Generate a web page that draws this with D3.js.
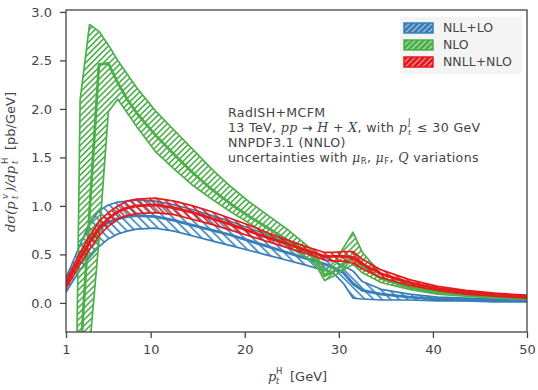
<!DOCTYPE html>
<html>
<head>
<meta charset="utf-8">
<script src="https://cdn.jsdelivr.net/npm/d3@7/dist/d3.min.js"></script>
<style>
  html, body { margin: 0; padding: 0; background: #fff; }
  svg text { font-family: 'DejaVu Sans', sans-serif; fill: #444; }
  .math { font-family: 'DejaVu Serif', serif; font-style: italic; }
</style>
</head>
<body>
<div id="chart"></div>
<script>
(function () {
  'use strict';

  // ── Data ──────────────────────────────────────────────────────
  const ptH = [1, 1.5, 2.5, 3.5, 4.5, 5.5, 6.5, 7.5, 8.5, 10.5, 12.5, 14.5, 16.5, 18.5, 20.5,
               22.5, 24.5, 26.5, 27.5, 28.5, 29.5, 30.5, 31.5, 32.5, 34.5, 37.5, 40.5, 43.5, 46.5, 50];

  // NLL+LO
  const nllUp  = [0.27, 0.37, 0.60, 0.82, 0.95, 1.01, 1.04, 1.05, 1.06, 1.05, 1.01, 0.96, 0.90, 0.84, 0.77,
                  0.70, 0.63, 0.55, 0.51, 0.47, 0.43, 0.38, 0.33, 0.22, 0.14, 0.09, 0.06, 0.05, 0.04, 0.03];
  const nllMid = [0.19, 0.28, 0.47, 0.64, 0.76, 0.83, 0.87, 0.89, 0.90, 0.89, 0.85, 0.80, 0.75, 0.70, 0.64,
                  0.58, 0.52, 0.46, 0.43, 0.40, 0.36, 0.31, 0.20, 0.13, 0.09, 0.06, 0.04, 0.03, 0.03, 0.02];
  const nllLo  = [0.11, 0.19, 0.34, 0.47, 0.58, 0.66, 0.71, 0.74, 0.76, 0.77, 0.74, 0.69, 0.64, 0.59, 0.54,
                  0.49, 0.44, 0.39, 0.36, 0.34, 0.30, 0.20, 0.05, 0.04, 0.03, 0.03, 0.02, 0.02, 0.01, 0.01];

  // NLO
  const nloUp  = [-9, -5.2, 2.09, 2.87, 2.80, 2.66, 2.50, 2.36, 2.22, 1.98, 1.78, 1.58, 1.38, 1.20, 1.04,
                  0.90, 0.76, 0.60, 0.51, 0.33, 0.42, 0.57, 0.73, 0.52, 0.30, 0.19, 0.13, 0.09, 0.07, 0.05];
  const nloMid = [-9, -4.0, -0.61, 0.93, 2.46, 2.47, 2.27, 2.10, 1.96, 1.73, 1.53, 1.34, 1.17, 1.02, 0.89,
                  0.77, 0.65, 0.53, 0.45, 0.28, 0.33, 0.40, 0.47, 0.38, 0.25, 0.16, 0.11, 0.08, 0.06, 0.045];
  const nloLo  = [-9, -4.0, -1.6, -0.47, 0.64, 1.97, 2.10, 1.96, 1.82, 1.56, 1.38, 1.21, 1.07, 0.94, 0.82,
                  0.70, 0.59, 0.47, 0.40, 0.23, 0.28, 0.34, 0.40, 0.31, 0.21, 0.14, 0.09, 0.07, 0.05, 0.04];

  // NNLL+NLO
  const nnllUp  = [0.24, 0.33, 0.52, 0.69, 0.84, 0.93, 1.00, 1.05, 1.07, 1.08, 1.05, 1.00, 0.94, 0.87, 0.80,
                   0.72, 0.65, 0.58, 0.55, 0.52, 0.52, 0.53, 0.53, 0.45, 0.34, 0.24, 0.17, 0.13, 0.10, 0.08];
  const nnllMid = [0.19, 0.28, 0.46, 0.62, 0.77, 0.87, 0.94, 0.98, 1.00, 1.01, 0.98, 0.93, 0.87, 0.81, 0.74,
                   0.67, 0.61, 0.54, 0.51, 0.48, 0.48, 0.48, 0.47, 0.40, 0.30, 0.21, 0.15, 0.11, 0.09, 0.065];
  const nnllLo  = [0.15, 0.23, 0.40, 0.55, 0.69, 0.79, 0.86, 0.90, 0.92, 0.93, 0.91, 0.86, 0.81, 0.75, 0.69,
                   0.63, 0.57, 0.51, 0.48, 0.44, 0.43, 0.43, 0.41, 0.35, 0.26, 0.18, 0.13, 0.09, 0.07, 0.05];

  const xTicks = [1, 10, 20, 30, 40, 50];
  const yTicks = [0, 0.5, 1.0, 1.5, 2.0, 2.5, 3.0];

  const series = [
    { key: 'nll',  label: 'NLL+LO',   color: '#377eb8', up: nllUp,  mid: nllMid,  lo: nllLo,  angle: -45, gap: 6 },
    { key: 'nlo',  label: 'NLO',      color: '#4daf4a', up: nloUp,  mid: nloMid,  lo: nloLo,  angle: 45,  gap: 4.2 },
    { key: 'nnll', label: 'NNLL+NLO', color: '#e41a1c', up: nnllUp, mid: nnllMid, lo: nnllLo, angle: -45, gap: 5 },
  ];

  // ── SVG ────────────────────────────────────────────────────────
  const W = 538, H = 390;
  const M = { left: 66, right: 11, top: 10, bottom: 58 };
  const iw = W - M.left - M.right;
  const ih = H - M.top - M.bottom;

  const svg = d3.select('#chart').append('svg')
    .attr('width', W).attr('height', H);

  const x = d3.scaleLinear().domain([1, 50]).range([0, iw]);
  const y = d3.scaleLinear().domain([-0.3, 3.02]).range([ih, 0]);

  const defs = svg.append('defs');
  defs.append('clipPath').attr('id', 'plot-clip')
    .append('rect').attr('width', iw).attr('height', ih);

  series.forEach(s => {
    // hatch for the bands
    const p = defs.append('pattern')
      .attr('id', 'hatch-' + s.key)
      .attr('patternUnits', 'userSpaceOnUse')
      .attr('width', s.gap).attr('height', s.gap)
      .attr('patternTransform', `rotate(${s.angle})`);
    p.append('line')
      .attr('x1', 0.8).attr('y1', 0).attr('x2', 0.8).attr('y2', s.gap)
      .attr('stroke', s.color).attr('stroke-width', 1.6);
    // white hatch over colour for the legend patches
    const q = defs.append('pattern')
      .attr('id', 'lhatch-' + s.key)
      .attr('patternUnits', 'userSpaceOnUse')
      .attr('width', 4).attr('height', 4)
      .attr('patternTransform', 'rotate(45)');
    q.append('rect').attr('width', 4).attr('height', 4).attr('fill', s.color);
    q.append('line')
      .attr('x1', 0.5).attr('y1', 0).attr('x2', 0.5).attr('y2', 4)
      .attr('stroke', '#fff').attr('stroke-width', 0.8).attr('stroke-opacity', 0.8);
  });

  const g = svg.append('g').attr('transform', `translate(${M.left},${M.top})`);
  const plot = g.append('g').attr('clip-path', 'url(#plot-clip)');

  // ── Bands ──────────────────────────────────────────────────────
  const area = d3.area()
    .x((d, i) => x(ptH[i]))
    .y0(d => y(d[0]))
    .y1(d => y(d[1]));
  const line = d3.line()
    .x((d, i) => x(ptH[i]))
    .y(d => y(d));

  series.forEach(s => {
    const band = ptH.map((_, i) => [s.lo[i], s.up[i]]);
    plot.append('path')
      .attr('d', area(band))
      .attr('fill', `url(#hatch-${s.key})`)
      .attr('stroke', s.color)
      .attr('stroke-width', 1.7)
      .attr('stroke-linejoin', 'round');
    plot.append('path')
      .attr('d', line(s.mid))
      .attr('fill', 'none')
      .attr('stroke', s.color)
      .attr('stroke-width', 2.8)
      .attr('stroke-linejoin', 'round');
  });

  // ── Axes ───────────────────────────────────────────────────────
  const xAxis = g.append('g').attr('transform', `translate(0,${ih})`)
    .call(d3.axisBottom(x).tickValues(xTicks).tickSize(6).tickPadding(7).tickFormat(d3.format('d')));
  const yAxis = g.append('g')
    .call(d3.axisLeft(y).tickValues(yTicks).tickSize(6).tickPadding(8).tickFormat(d3.format('.1f')));
  [xAxis, yAxis].forEach(a => {
    a.select('.domain').remove();
    a.selectAll('line').attr('stroke', '#444').attr('stroke-width', 1.3);
    a.selectAll('text').attr('font-size', 13).attr('fill', '#444')
      .attr('font-family', "'DejaVu Sans', sans-serif");
  });

  g.append('rect')
    .attr('width', iw).attr('height', ih)
    .attr('fill', 'none').attr('stroke', '#444').attr('stroke-width', 1.3);

  // ── Axis labels ────────────────────────────────────────────────
  // p_t^H [GeV]
  const xlab = svg.append('g').attr('transform', 'translate(268,381)').attr('font-size', 13);
  xlab.append('text').attr('class', 'math').attr('x', 0).attr('y', 0).text('p');
  xlab.append('text').attr('x', 8).attr('y', -7).attr('font-size', 8.5).text('H');
  xlab.append('text').attr('class', 'math').attr('x', 8).attr('y', 3).attr('font-size', 8.5).text('t');
  xlab.append('text').attr('x', 22).attr('y', 0).text('[GeV]');

  // dσ(p_t^v)/dp_t^H [pb/GeV]
  const ylab = svg.append('g').attr('transform', 'translate(15,232) rotate(-90)').attr('font-size', 13);
  ylab.append('text').attr('class', 'math').attr('x', 0).attr('y', 0).text('dσ(p');
  ylab.append('text').attr('class', 'math').attr('x', 33).attr('y', -7).attr('font-size', 8.5).text('v');
  ylab.append('text').attr('class', 'math').attr('x', 33).attr('y', 3).attr('font-size', 8.5).text('t');
  ylab.append('text').attr('class', 'math').attr('x', 40).attr('y', 0).text(')/dp');
  ylab.append('text').attr('x', 68).attr('y', -7).attr('font-size', 8.5).text('H');
  ylab.append('text').attr('class', 'math').attr('x', 68).attr('y', 3).attr('font-size', 8.5).text('t');
  ylab.append('text').attr('x', 82).attr('y', 0).text('[pb/GeV]');

  // ── Annotation ─────────────────────────────────────────────────
  const ann = svg.append('g').attr('transform', 'translate(228,0)')
    .attr('font-size', 12.6).attr('letter-spacing', 0.35);
  ann.append('text').attr('y', 117).text('RadISH+MCFM');

  // second line: text up to p, then the stacked J / t, then the rest
  const l2 = ann.append('text').attr('y', 132);
  l2.append('tspan').text('13 TeV, ');
  l2.append('tspan').attr('class', 'math').text('pp');
  l2.append('tspan').text(' → ');
  l2.append('tspan').attr('class', 'math').text('H');
  l2.append('tspan').text(' + ');
  l2.append('tspan').attr('class', 'math').text('X');
  l2.append('tspan').text(', with ');
  l2.append('tspan').attr('class', 'math').text('p');
  const px = l2.node().getComputedTextLength() + 1;
  ann.append('text').attr('x', px).attr('y', 124.5).attr('font-size', 8).text('J');
  ann.append('text').attr('class', 'math').attr('x', px).attr('y', 135).attr('font-size', 8).text('t');
  ann.append('text').attr('x', px + 9).attr('y', 132).text('≤ 30 GeV');

  ann.append('text').attr('y', 147).text('NNPDF3.1 (NNLO)');
  const l4 = ann.append('text').attr('y', 162);
  l4.append('tspan').text('uncertainties with ');
  l4.append('tspan').attr('class', 'math').text('μ');
  l4.append('tspan').attr('font-size', 8.5).attr('dy', 2).text('R');
  l4.append('tspan').attr('dy', -2).text(', ');
  l4.append('tspan').attr('class', 'math').text('μ');
  l4.append('tspan').attr('font-size', 8.5).attr('dy', 2).text('F');
  l4.append('tspan').attr('dy', -2).text(', ');
  l4.append('tspan').attr('class', 'math').text('Q');
  l4.append('tspan').text(' variations');

  // ── Legend ─────────────────────────────────────────────────────
  const legend = svg.append('g').attr('transform', 'translate(400,17)');
  legend.append('rect')
    .attr('width', 122).attr('height', 57).attr('rx', 2)
    .attr('fill', '#f2f2f2').attr('opacity', 0.85);
  series.forEach((s, i) => {
    const row = legend.append('g').attr('transform', `translate(4,${11 + i * 17})`);
    row.append('rect')
      .attr('x', 0).attr('y', -5).attr('width', 29).attr('height', 10)
      .attr('fill', `url(#lhatch-${s.key})`).attr('stroke', s.color).attr('stroke-width', 1.5);
    row.append('text')
      .attr('x', 39).attr('y', 0).attr('dy', '0.35em')
      .attr('font-size', 12.5).text(s.label);
  });
})();
</script>
</body>
</html>
